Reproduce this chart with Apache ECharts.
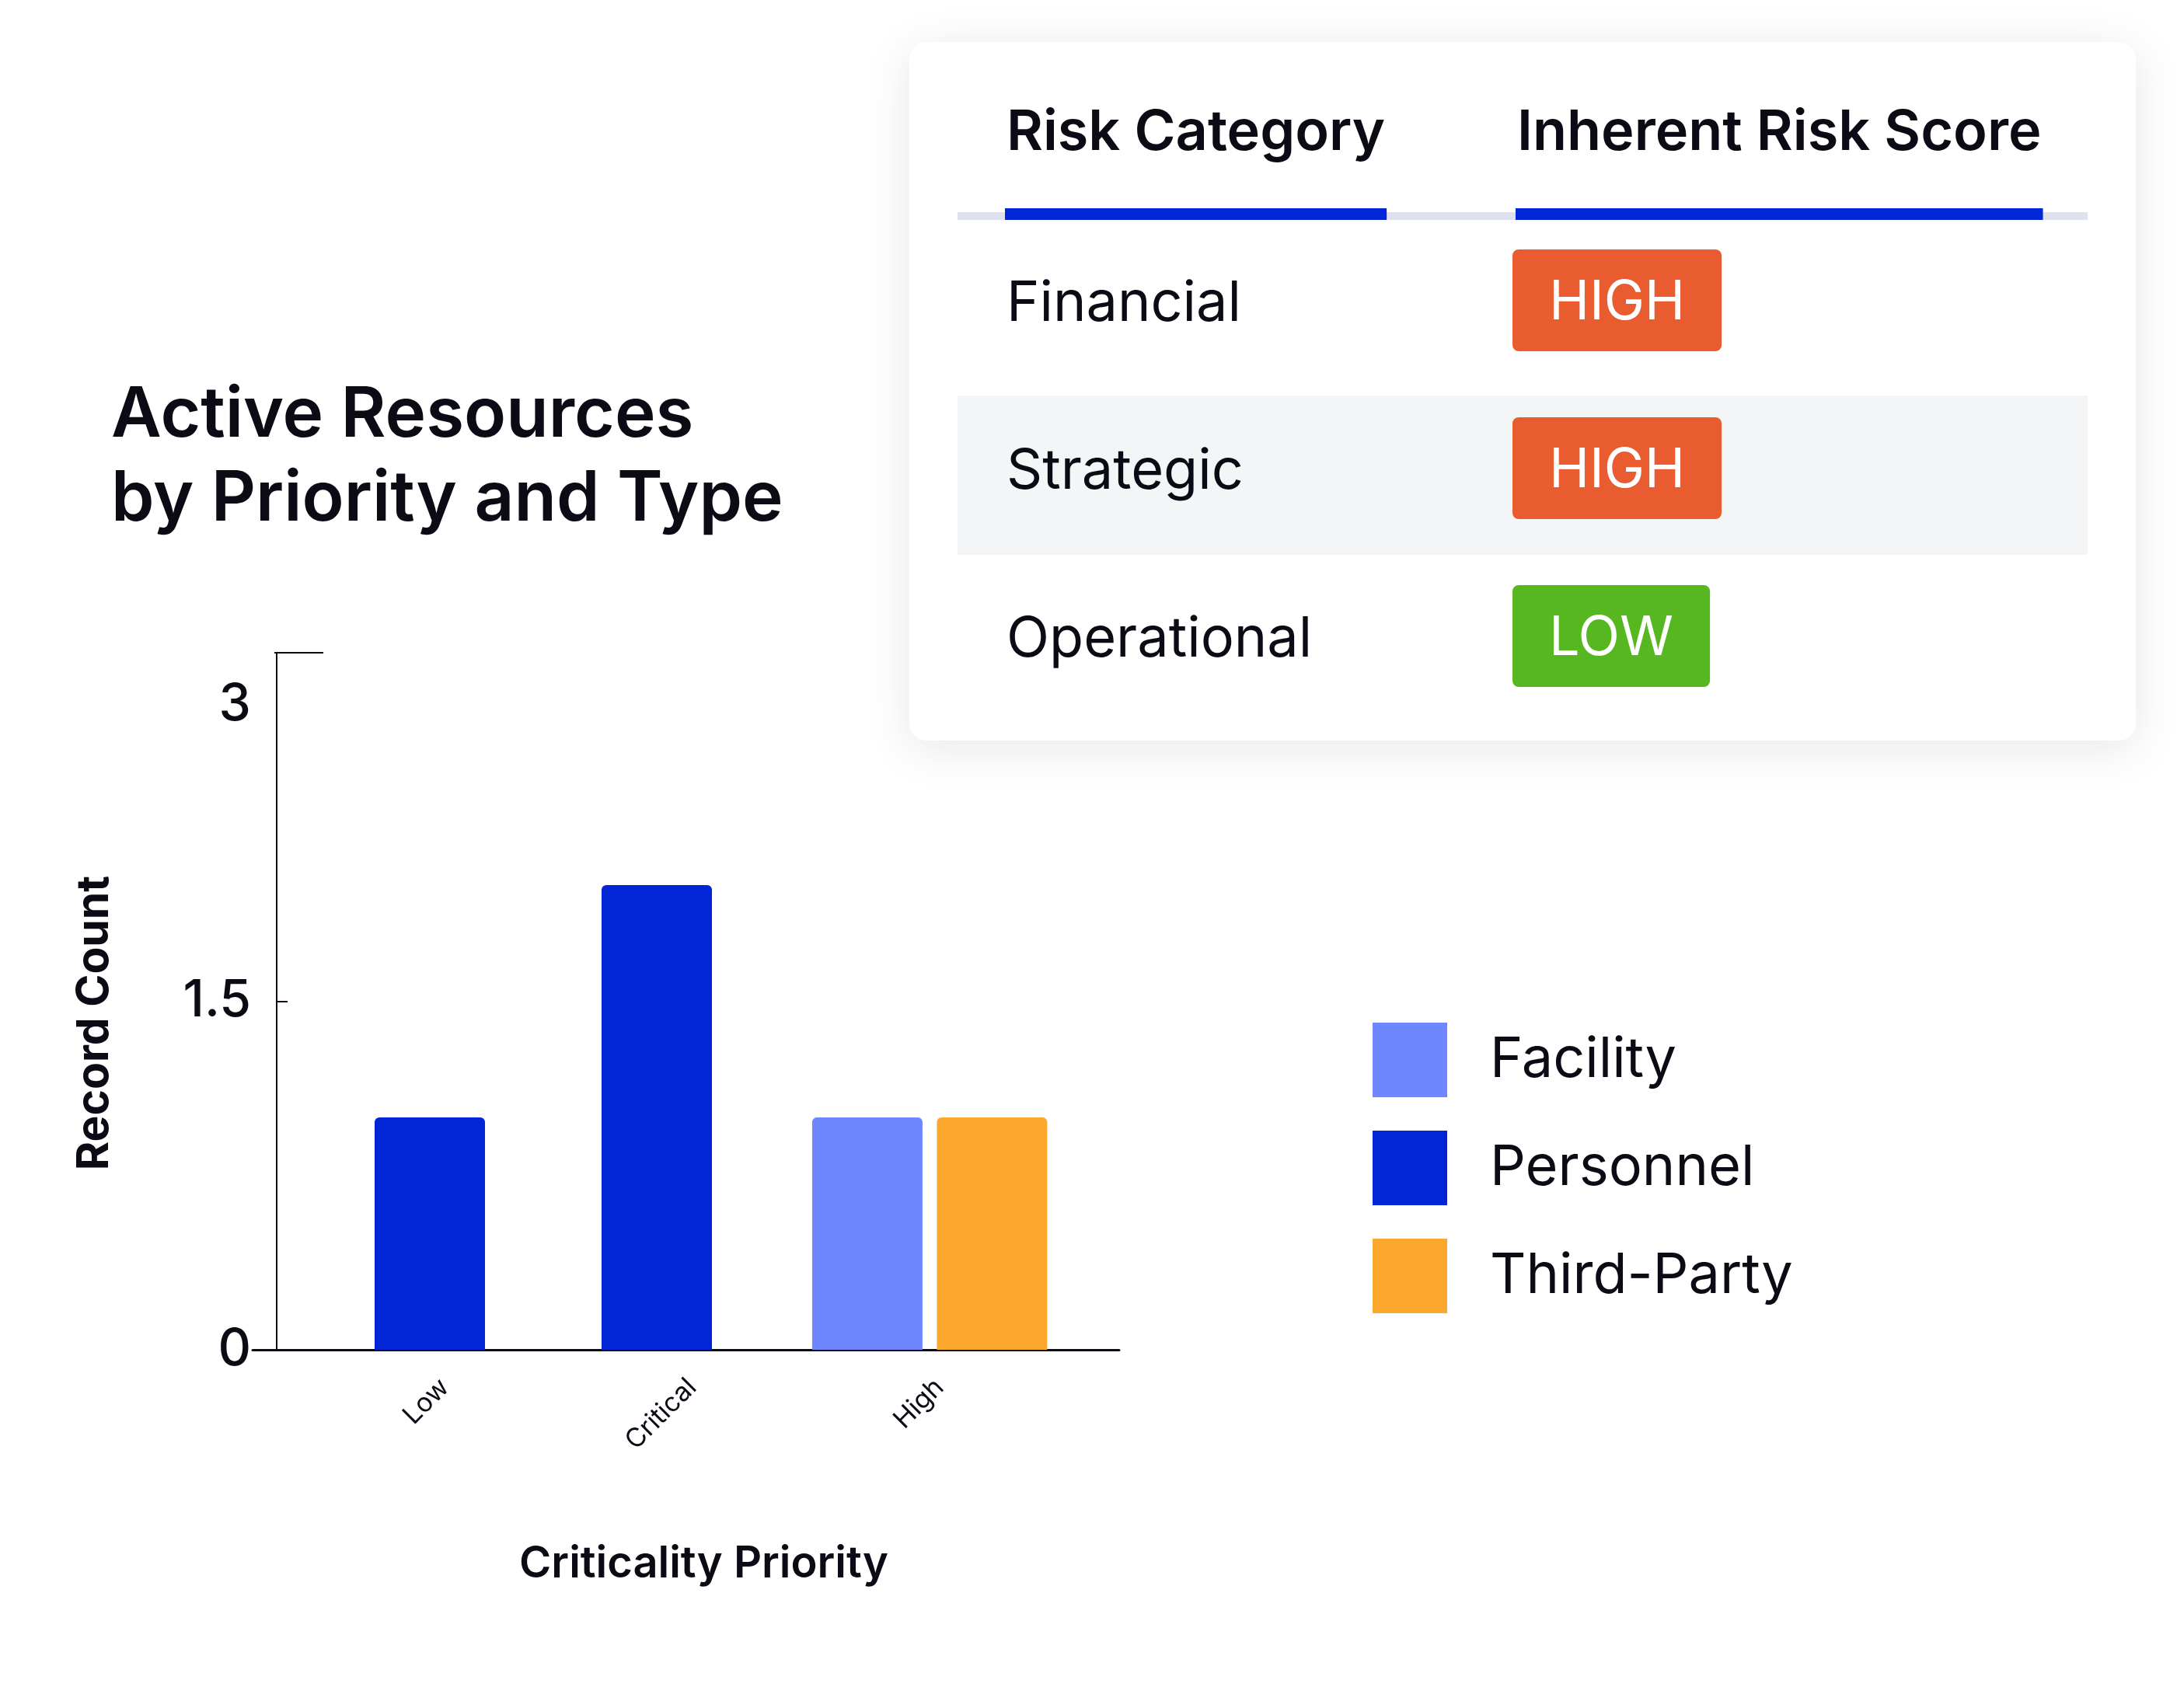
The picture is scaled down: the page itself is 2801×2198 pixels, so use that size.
<!DOCTYPE html>
<html lang="en">
<head>
    <meta charset="UTF-8">
    <title>Active Resources by Priority and Type</title>
    <script src="https://cdn.jsdelivr.net/npm/echarts@6/dist/echarts.min.js"></script>
    <style>
        html, body { margin: 0; padding: 0; background: #fff; }
        #main { width: 2801px; height: 2198px; }
    </style>
</head>
<body>
<div id="main"></div>
<script type="text/javascript">

    // chart data
    var categories = ['Low', 'Critical', 'High'];
    var facility = [null, null, 1];
    var personnel = [1, 2, null];
    var thirdParty = [null, null, 1];
    var yMin = 0, yMax = 3, yStep = 1.5;

    // risk table data
    var riskHeaders = ['Risk Category', 'Inherent Risk Score'];
    var riskCategories = ['Financial', 'Strategic', 'Operational'];
    var riskScores = ['HIGH', 'HIGH', 'LOW'];

    var FONT = 'Inter';
    var INK = '#0b0b16';
    var scoreColors = { HIGH: '#e95c30', LOW: '#56b720' };

    var measureCtx = document.createElement('canvas').getContext('2d');
    function textWidth(str, font) {
        measureCtx.font = font;
        return measureCtx.measureText(str).width;
    }

    // plot layout (the picture spaces its groups unevenly, so each group gets its own band)
    var plotTop = 840, plotH = 897;
    var barGridLeft = 407;
    var yOffset = 51;
    var axisX = barGridLeft - yOffset;

    // decoration + risk table built as graphic elements
    var els = [];
    els.push({
        type: 'line', z: 5,
        shape: { x1: axisX - 3, y1: plotTop, x2: axisX + 60, y2: plotTop },
        style: { stroke: INK, lineWidth: 2 }
    });

    var card = { x: 1170, y: 54, w: 1578, h: 899 };
    var colX = [1295, 1952];
    var ruleLeft = 1232, ruleRight = 2686;
    els.push({
        type: 'rect', z: 1,
        shape: { x: card.x, y: card.y, width: card.w, height: card.h, r: 22 },
        style: { fill: '#fff', shadowBlur: 60, shadowColor: 'rgba(16,18,40,0.10)', shadowOffsetY: 10 }
    });
    els.push({
        type: 'rect', z: 2,
        shape: { x: ruleLeft, y: 273, width: ruleRight - ruleLeft, height: 10 },
        style: { fill: '#dfe1ee' }
    });
    var headFont = '600 72px Inter';
    riskHeaders.forEach(function (h, i) {
        els.push({
            type: 'text', z: 3, x: colX[i], y: 171,
            style: { text: h, font: headFont, fill: INK, verticalAlign: 'middle' }
        });
        els.push({
            type: 'rect', z: 3,
            shape: { x: colX[i] - 2, y: 268, width: textWidth(h, headFont) + 4, height: 15 },
            style: { fill: '#0026d6' }
        });
    });

    var rowFont = '400 72px Inter';
    var badgeFont = '400 70px Inter';
    riskCategories.forEach(function (name, i) {
        var cy = 386 + i * 216;
        if (i % 2 === 1) {
            els.push({
                type: 'rect', z: 2,
                shape: { x: ruleLeft, y: cy - 93, width: ruleRight - ruleLeft, height: 205 },
                style: { fill: '#f4f5f7' }
            });
        }
        els.push({
            type: 'text', z: 3, x: colX[0], y: cy + 5,
            style: { text: name, font: rowFont, fill: INK, verticalAlign: 'middle' }
        });
        var score = riskScores[i];
        var bw = textWidth(score, badgeFont) + 94;
        els.push({
            type: 'rect', z: 3,
            shape: { x: 1946, y: cy - 65, width: bw, height: 131, r: 8 },
            style: { fill: scoreColors[score] }
        });
        els.push({
            type: 'text', z: 4, x: 1946 + bw / 2, y: cy + 4,
            style: { text: score, font: badgeFont, fill: '#fff', align: 'center', verticalAlign: 'middle' }
        });
    });

    var myChart = echarts.init(document.getElementById('main'));

    function hiddenY(gridIndex) {
        return { type: 'value', gridIndex: gridIndex, min: yMin, max: yMax, show: false };
    }

    var option = {
        backgroundColor: '#fff',
        animation: false,
        textStyle: { fontFamily: FONT },
        title: {
            text: 'Active Resources\nby Priority and Type',
            left: 138,
            top: 476,
            textStyle: { fontFamily: FONT, fontSize: 89, fontWeight: 600, color: INK, lineHeight: 108 }
        },
        legend: {
            data: ['Facility', 'Personnel', 'Third-Party'],
            orient: 'vertical',
            left: 1766,
            top: 1316,
            padding: 0,
            itemWidth: 96,
            itemHeight: 96,
            itemGap: 43,
            icon: 'rect',
            selectedMode: false,
            textStyle: { fontFamily: FONT, fontSize: 72, color: INK, padding: [0, 0, 0, 50] }
        },
        grid: [
            { left: barGridLeft, top: plotTop, width: 876, height: plotH },   // Personnel
            { left: barGridLeft, top: plotTop, width: 947, height: plotH },   // Facility / Third-Party
            { left: 413, top: plotTop, width: 955, height: plotH },           // category labels
            { left: 325, top: plotTop, width: 1115, height: plotH }           // base line
        ],
        xAxis: [
            { type: 'category', gridIndex: 0, data: categories, show: false },
            { type: 'category', gridIndex: 1, data: categories, show: false },
            {
                type: 'category', gridIndex: 2, data: categories,
                axisLine: { show: false },
                axisTick: { show: false },
                axisLabel: { rotate: 45, margin: 43, fontSize: 34, color: INK, fontFamily: FONT },
                name: 'Criticality Priority',
                nameLocation: 'middle',
                nameGap: 248,
                nameTextStyle: { fontFamily: FONT, fontSize: 56, fontWeight: 600, color: INK, padding: [0, 0, 0, 30] }
            },
            {
                type: 'value', gridIndex: 3, min: 0, max: 1,
                axisLine: { show: true, lineStyle: { color: INK, width: 3 } },
                axisTick: { show: false },
                axisLabel: { show: false },
                splitLine: { show: false }
            }
        ],
        yAxis: [
            hiddenY(0),
            {
                type: 'value', gridIndex: 1,
                min: yMin, max: yMax, interval: yStep,
                offset: yOffset,
                axisLine: { show: true, lineStyle: { color: INK, width: 2 } },
                axisTick: { show: true, inside: true, length: 14, lineStyle: { color: INK, width: 2 } },
                splitLine: { show: false },
                axisLabel: {
                    margin: 33, fontSize: 66, fontWeight: 500, color: INK, fontFamily: FONT,
                    formatter: function (v) {
                        return v === yMax ? '{top|' + v + '}' : String(v);
                    },
                    rich: {
                        top: { fontSize: 66, fontWeight: 500, color: INK, fontFamily: FONT, padding: [134, 0, 0, 0] }
                    }
                },
                name: 'Record Count',
                nameLocation: 'middle',
                nameGap: 206,
                nameTextStyle: { fontFamily: FONT, fontSize: 57, fontWeight: 700, color: INK, padding: [0, 56, 0, 0] }
            },
            hiddenY(2),
            hiddenY(3)
        ],
        graphic: { elements: els },
        series: [
            {
                name: 'Facility', type: 'bar', xAxisIndex: 1, yAxisIndex: 1,
                data: facility, barWidth: 142, barGap: '13%',
                itemStyle: { color: '#6e87ff', borderRadius: [6, 6, 0, 0] }
            },
            {
                name: 'Personnel', type: 'bar', xAxisIndex: 0, yAxisIndex: 0,
                data: personnel, barWidth: 142,
                itemStyle: { color: '#0225d6', borderRadius: [6, 6, 0, 0] }
            },
            {
                name: 'Third-Party', type: 'bar', xAxisIndex: 1, yAxisIndex: 1,
                data: thirdParty, barWidth: 142, barGap: '13%',
                itemStyle: { color: '#fca82f', borderRadius: [6, 6, 0, 0] }
            }
        ]
    };

    myChart.setOption(option);

</script>
</body>
</html>
